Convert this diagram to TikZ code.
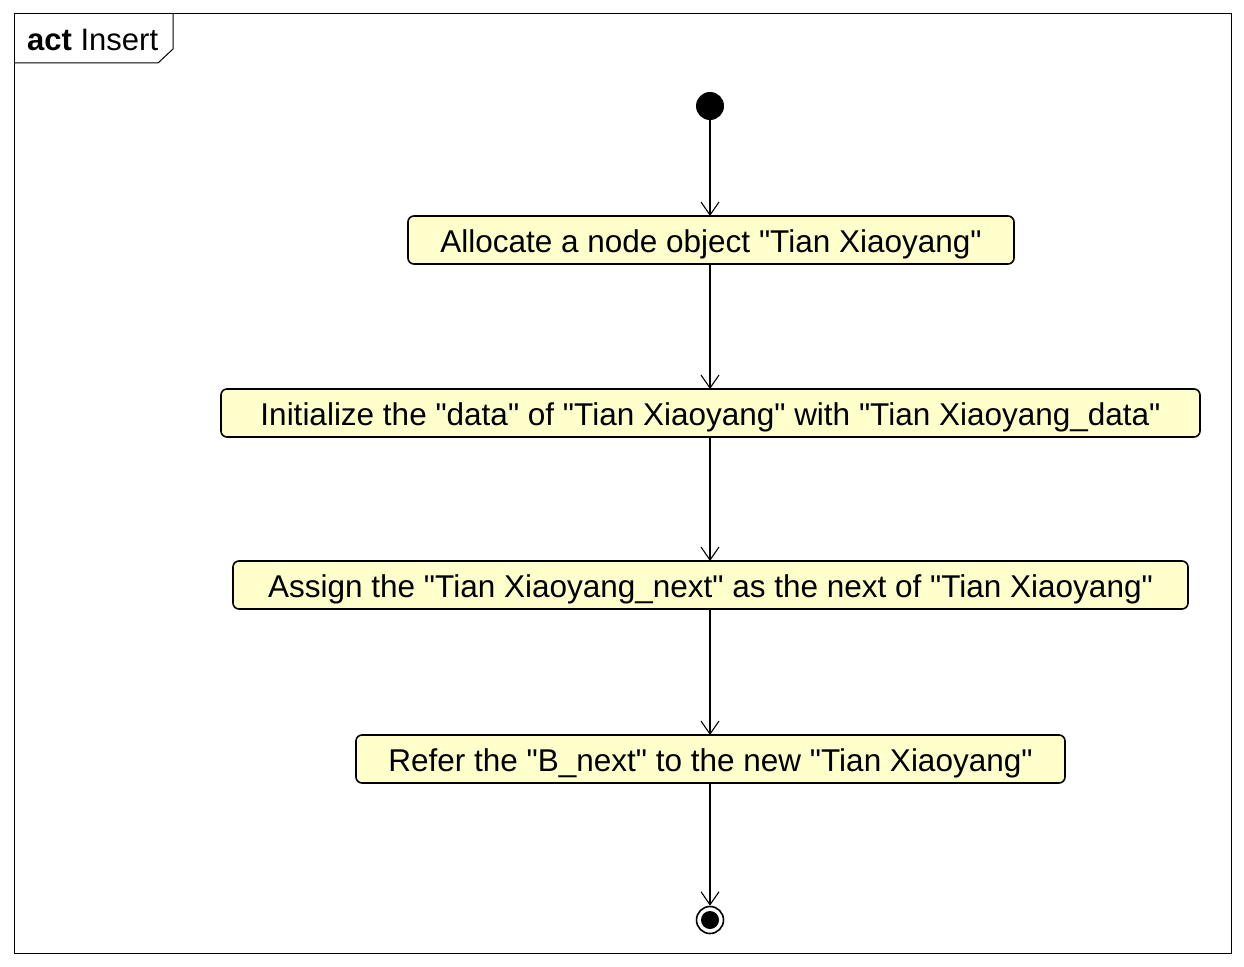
\documentclass[tikz,border=0pt]{standalone}
\usepackage{fontspec}
\setmainfont{Liberation Sans}[Ligatures=TeXOff]
\usetikzlibrary{arrows.meta}
\definecolor{actfill}{HTML}{FFFFCC}
\tikzset{
  action/.style={draw=black, line width=1.6pt, fill=actfill, rounded corners=6pt, inner sep=0pt, text height=26pt, text depth=1.5pt, font=\fontsize{31.5}{36}\selectfont},
  flow/.style={draw=black, line width=1.1pt, -{Straight Barb[length=13pt,width=18pt,line width=1.1pt]}},
}
\begin{document}
\begin{tikzpicture}[x=1pt,y=-1pt]
\useasboundingbox (0,0) rectangle (1244,966);
% frame
\draw[line width=1pt] (14,14) rectangle (1231,953);
\draw[line width=1pt] (14,63) -- (158,63) -- (173,49) -- (173,14);
\node[anchor=west, font=\fontsize{31}{36}\selectfont, inner sep=0pt] (lbl) at (27,40) {\textbf{act} Insert};
% initial
\node[circle, fill=black, minimum size=28pt, inner sep=0pt] (init) at (710,106) {};
% actions
\node[action, minimum width=606pt, minimum height=48pt] (a1) at (711,240) {Allocate a node object "Tian Xiaoyang"};
\node[action, minimum width=979pt, minimum height=48pt] (a2) at (710.5,413) {Initialize the "data" of "Tian Xiaoyang" with "Tian Xiaoyang\_data"};
\node[action, minimum width=955pt, minimum height=48pt] (a3) at (710.5,585) {Assign the "Tian Xiaoyang\_next" as the next of "Tian Xiaoyang"};
\node[action, minimum width=709pt, minimum height=48pt] (a4) at (710.5,759) {Refer the "B\_next" to the new "Tian Xiaoyang"};
% final
\node[circle, draw=black, line width=1.6pt, fill=white, minimum size=27pt, inner sep=0pt] (fin) at (710,920) {};
\node[circle, fill=black, minimum size=18pt, inner sep=0pt] (finin) at (fin) {};
% flows
\draw[flow] (init.south) -- (710,216);
\draw[flow] (710,264) -- (710,389);
\draw[flow] (710,437) -- (710,561);
\draw[flow] (710,609) -- (710,735);
\draw[flow] (710,783) -- (fin.north);
\end{tikzpicture}
\end{document}
